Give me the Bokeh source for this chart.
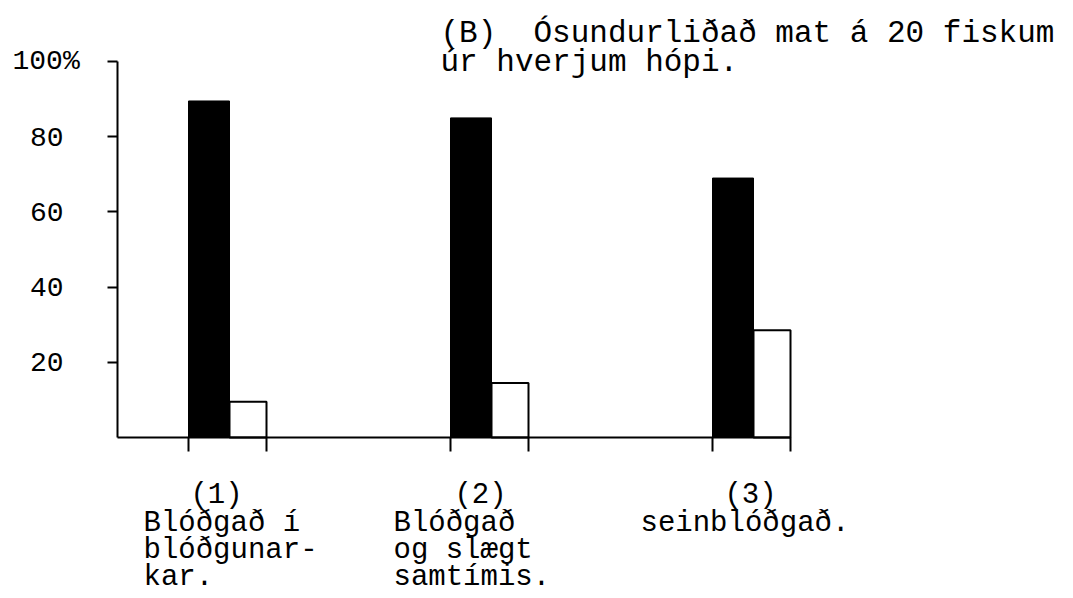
from bokeh.plotting import figure
from bokeh.models import LinearAxis, FixedTicker, Range1d, CustomJSTickFormatter
from bokeh.embed import file_html
from bokeh.resources import INLINE
from bokeh.core.properties import value

# ---------------- data ----------------
groups = ["(1)", "(2)", "(3)"]
descriptions = [
    "Blóðgað í\nblóðgunar-\nkar.",
    "Blóðgað\nog slægt\nsamtímis.",
    "seinblóðgað.",
]
black_pct = [89.5, 85, 69]
white_pct = [9.5, 14.5, 28.5]
y_ticks = [20, 40, 60, 80, 100]
y_tick_labels = ["20", "40", "60", "80", "100%"]
title_lines = ["(B)\u00a0 Ósundurliðað mat á 20 fiskum", "úr hverjum hópi."]

# ---------------- layout (pixels of the page) ----------------
W, H = 1073, 598
M = 0
PX_PER_GROUP = 262.0
X_GROUP1 = 229.0
Y_ZERO = 437.0
PX_PER_PCT = 3.76
FONT = "Liberation Mono"


def dx(X):
    return 1 + (X - X_GROUP1) / PX_PER_GROUP


def dy(Y):
    return (Y_ZERO - Y) / PX_PER_PCT


black_w = 41 / PX_PER_GROUP
white_w = 37 / PX_PER_GROUP
num_off_px = [-13, -11, -3]
desc_off_px = [-86, -98, -113]

p = figure(
    width=W, height=H,
    x_range=Range1d(dx(M), dx(M + W)),
    y_range=Range1d(dy(M + H), dy(M)),
    x_axis_type=None, y_axis_type=None,
    toolbar_location=None, output_backend="svg",
    min_border=0, outline_line_color=None,
)
p.background_fill_color = "white"
p.border_fill_color = "white"

xs = [i + 1 for i in range(len(groups))]

p.vbar(x=[x - black_w / 2 for x in xs], top=black_pct, bottom=0, width=black_w,
       fill_color="black", line_color="black", line_width=1)
p.vbar(x=[x + white_w / 2 for x in xs], top=white_pct, bottom=0, width=white_w,
       fill_color="white", line_color="black", line_width=2)

edges = []
for x in xs:
    edges += [x - black_w, x + white_w]

yaxis = LinearAxis(
    fixed_location=dx(117), bounds=(0, 100),
    ticker=FixedTicker(ticks=y_ticks),
    formatter=CustomJSTickFormatter(code="return ''"),
    major_tick_out=10, major_tick_in=0, minor_tick_out=0, minor_tick_in=0,
    axis_line_width=2, major_tick_line_width=2,
)
p.add_layout(yaxis, "left")

# y tick labels: numbers right-aligned, the "%" one hangs to the right
lab_x = [dx(12) if l.endswith("%") else dx(63) for l in y_tick_labels]
lab_align = ["left" if l.endswith("%") else "right" for l in y_tick_labels]
p.text(x=lab_x, y=y_ticks, text=y_tick_labels, text_align=lab_align,
       text_baseline="middle", text_font=value(FONT), text_font_size="28px",
       text_color="black")

xaxis = LinearAxis(
    fixed_location=0, bounds=(dx(117), max(edges)),
    ticker=FixedTicker(ticks=edges),
    formatter=CustomJSTickFormatter(code="return ''"),
    major_tick_out=14, major_tick_in=0, minor_tick_out=0, minor_tick_in=0,
    axis_line_width=2, major_tick_line_width=2,
)
p.add_layout(xaxis, "below")

# title
p.text(x=[dx(440)] * len(title_lines), y=[dy(33), dy(62)], text=title_lines,
       text_font=value(FONT), text_font_size="31px", text_color="black",
       text_align="left", text_baseline="alphabetic")

# group numbers
p.text(x=[x + o / PX_PER_GROUP for x, o in zip(xs, num_off_px)], y=[dy(495)] * len(xs),
       text=groups, text_font=value(FONT), text_font_size="29px", text_color="black",
       text_align="center", text_baseline="alphabetic")

# descriptions, line by line
lx, ly, lt = [], [], []
for x, o, d in zip(xs, desc_off_px, descriptions):
    for k, line in enumerate(d.split("\n")):
        lx.append(x + o / PX_PER_GROUP)
        ly.append(dy(523 + 27 * k))
        lt.append(line)
p.text(x=lx, y=ly, text=lt, text_font=value(FONT), text_font_size="29px",
       text_color="black", text_align="left", text_baseline="alphabetic")

with open("out.html", "w", encoding="utf-8") as f:
    f.write(file_html(p, INLINE, title="chart"))
